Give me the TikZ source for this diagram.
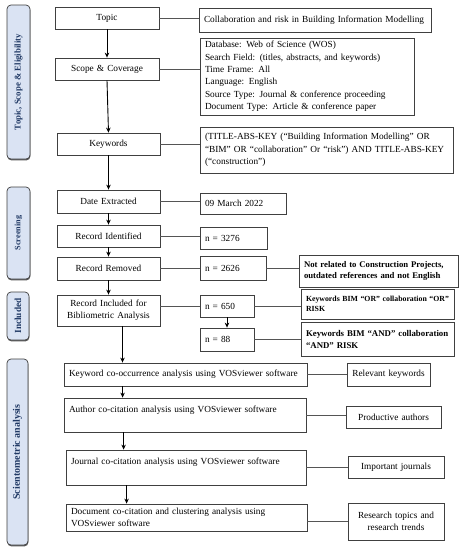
\documentclass[tikz,border=0pt]{standalone}
\usepackage{fontspec}
\setmainfont{Liberation Serif}
\usetikzlibrary{arrows.meta}
\definecolor{phasefill}{HTML}{DAE3F3}
\definecolor{phasetext}{HTML}{1F3864}
\definecolor{edgec}{HTML}{404040}
\definecolor{linec}{HTML}{555555}
\newcommand{\mkbox}[7]{%
 \pgfmathsetmacro\mkW{#4-#2}\pgfmathsetmacro\mkH{#5-#3}%
 \pgfmathsetmacro\mkT{#4-#2-10}%
 \pgfmathsetmacro\mkX{(#2+#4)/2}\pgfmathsetmacro\mkY{(#3+#5)/2}%
 \node[#6, minimum width=\mkW pt, minimum height=\mkH pt, text width=\mkT pt] (#1) at (\mkX,\mkY) {#7};}
\newcommand{\mkphase}[7]{%
 \pgfmathsetmacro\mkW{#4-#2}\pgfmathsetmacro\mkH{#5-#3}%
 \pgfmathsetmacro\mkX{(#2+#4)/2}\pgfmathsetmacro\mkY{(#3+#5)/2}%
 \fill[black!65, rounded corners=4pt] (#2+0.4,#3+1.4) rectangle (#4+0.4,#5+1.4);
 \node[phasebox, minimum width=\mkH pt, minimum height=\mkW pt, rotate=90, font=\fontsize{#7}{#7}\selectfont\bfseries] (#1) at (\mkX,\mkY) {#6};}
\begin{document}
\begin{tikzpicture}[x=1pt,y=-1pt,
  box/.style={draw=edgec, line width=0.8pt, inner xsep=5pt, inner ysep=0pt, font=\fontsize{9.3}{12.4}\selectfont, align=center},
  lbox/.style={box, align=left},
  bbox/.style={box, align=left, font=\fontsize{8.7}{10.6}\selectfont\bfseries},
  phasebox/.style={draw=edgec, line width=0.7pt, fill=phasefill, rounded corners=4pt, inner sep=0pt, text=phasetext},
  arr/.style={draw=black, line width=0.9pt, -{Stealth[length=5pt,width=4.5pt]}},
  link/.style={draw=linec, line width=0.8pt}]
\useasboundingbox (0,0) rectangle (462,550);
\fill[white] (0,0) rectangle (462,550);
% phases
\mkphase{p1}{7}{5}{30}{159}{Topic, Scope \& Eligibility}{8.8}
\mkphase{p2}{7}{187}{30}{279}{Screening}{8.2}
\mkphase{p3}{7}{292}{29}{340}{Included}{9.3}
\mkphase{p4}{7}{359}{28}{545}{Scientometric analysis}{10}
% main column
\mkbox{topic}{55}{7}{159}{29}{box}{Topic}
\mkbox{scope}{55}{58}{159}{80}{box}{Scope \& Coverage}
\mkbox{kw}{57}{133}{160}{155}{box}{Keywords}
\mkbox{date}{57}{190}{160}{213}{box}{Date Extracted}
\mkbox{rid}{57}{225}{160}{247}{box}{Record Identified}
\mkbox{rrem}{57}{257}{160}{280}{box}{Record Removed}
\mkbox{rinc}{57}{295}{160}{326}{box}{Record Included for\\Bibliometric Analysis}
\mkbox{kco}{64}{363}{307}{386}{lbox}{Keyword co-occurrence analysis using VOSviewer software}
\mkbox{auth}{64}{398}{306}{432}{lbox}{Author co-citation analysis using VOSviewer software\\\mbox{}}
\mkbox{jour}{66}{450}{306}{485}{lbox}{Journal co-citation analysis using VOSviewer software\\\mbox{}}
\mkbox{doc}{66}{504}{307}{531}{lbox}{Document co-citation and clustering analysis using\\VOSviewer software}
% right column
\mkbox{collab}{199}{8}{431}{32}{lbox}{Collaboration and risk in Building Information Modelling}
\mkbox{db}{200}{38}{414}{115}{lbox}{Database: Web of Science (WOS)\\Search Field: (titles, abstracts, and keywords)\\Time Frame: All\\Language: English\\Source Type: Journal \& conference proceeding\\Document Type: Article \& conference paper}
\mkbox{title}{200}{127}{453}{173}{lbox}{(TITLE-ABS-KEY (“Building Information Modelling” OR\\“BIM” OR “collaboration” Or “risk”) AND TITLE-ABS-KEY\\(“construction”)}
\mkbox{mar}{200}{193}{286}{214}{lbox}{09 March 2022}
\mkbox{n3276}{200}{227}{267}{249}{lbox}{n = 3276}
\mkbox{n2626}{200}{256}{266}{280}{lbox}{n = 2626}
\mkbox{notrel}{299}{255}{458}{287}{bbox}{Not related to Construction Projects,\\outdated references and not English}
\mkbox{n650}{200}{295}{254}{317}{lbox}{n = 650}
\mkbox{n88}{200}{328}{254}{351}{lbox}{n = 88}
\mkbox{kwor}{301}{289}{454}{319}{bbox, font=\fontsize{7.8}{10}\selectfont\bfseries}{Keywords BIM “OR” collaboration “OR”\\RISK}
\mkbox{kwand}{301}{322}{454}{356}{bbox, font=\fontsize{8.8}{12}\selectfont\bfseries}{Keywords BIM “AND” collaboration\\“AND” RISK}
\mkbox{relk}{347}{363}{430}{386}{box}{Relevant keywords}
\mkbox{prod}{346}{406}{441}{428}{box}{Productive authors}
\mkbox{impj}{348}{456}{444}{478}{box}{Important journals}
\mkbox{rest}{348}{503}{444}{540}{box}{Research topics and\\research trends}
% vertical arrows
\draw[arr] (topic.south) -- (scope.north);
\draw[arr] (scope.south) -- (kw.north);
\draw[arr] (kw.south) -- (date.north);
\draw[arr] (date.south) -- (rid.north);
\draw[arr] (rid.south) -- (rrem.north);
\draw[arr] (rrem.south) -- (rinc.north);
\draw[arr] ([xshift=14pt]rinc.south) -- ([xshift=14pt]rinc.south |- kco.north);
\draw[arr] ([xshift=59pt]kco.south west) -- ([xshift=59pt]kco.south west |- auth.north);
\draw[arr] ([xshift=60pt]auth.south west) -- ([xshift=60pt]auth.south west |- jour.north);
\draw[arr] ([xshift=61pt]jour.south west) -- ([xshift=61pt]jour.south west |- doc.north);
\draw[arr] (n650.south) -- (n88.north);
% horizontal links
\draw[link] (topic.east) -- (topic.east -| collab.west);
\draw[link] (scope.east) -- (scope.east -| db.west);
\draw[link] (kw.east) -- (kw.east -| title.west);
\draw[link] (date.east) -- (date.east -| mar.west);
\draw[link] (rid.east) -- (rid.east -| n3276.west);
\draw[link] (rrem.east) -- (rrem.east -| n2626.west);
\draw[link] (n2626.east) -- (n2626.east -| notrel.west);
\draw[link] (rinc.east |- n650.west) -- (n650.west);
\draw[link] (n650.east) -- (n650.east -| kwor.west);
\draw[link] (n88.east) -- (n88.east -| kwand.west);
\draw[link] (kco.east) -- (kco.east -| relk.west);
\draw[link] (auth.east) -- (auth.east -| prod.west);
\draw[link] (jour.east |- impj.west) -- (impj.west);
\draw[link] (doc.east |- rest.west) -- (rest.west);
\end{tikzpicture}
\end{document}
